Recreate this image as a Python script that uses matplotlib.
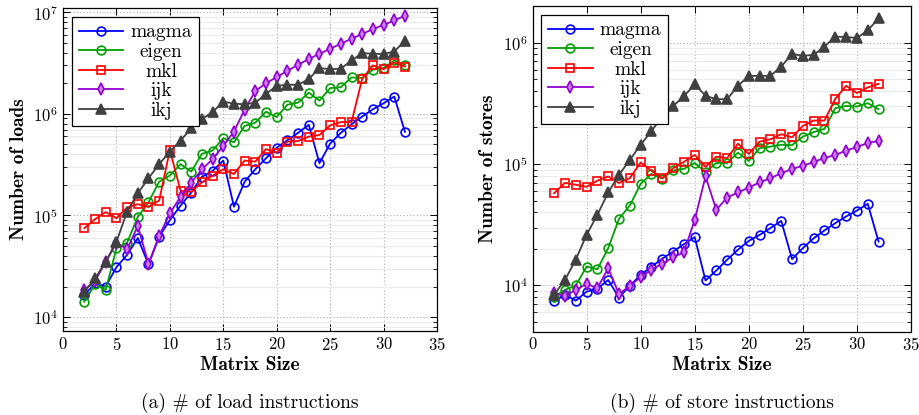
import matplotlib
matplotlib.use("Agg")
import matplotlib.pyplot as plt
from matplotlib.ticker import LogLocator, NullFormatter

plt.rcParams['font.family'] = 'serif'
plt.rcParams['font.serif'] = ['cmr10', 'DejaVu Serif']
plt.rcParams['mathtext.fontset'] = 'cm'
plt.rcParams['axes.formatter.use_mathtext'] = True
plt.rcParams['axes.unicode_minus'] = False

sizes = list(range(2, 33))
series_names = ['magma', 'eigen', 'mkl', 'ijk', 'ikj']

loads_magma = [1.65e4, 2.15e4, 2.0e4, 3.1e4, 4.1e4, 6.0e4, 3.3e4, 6.2e4, 9.0e4, 1.25e5,
               1.68e5, 2.4e5, 2.75e5, 3.47e5, 1.22e5, 2.15e5, 2.85e5, 3.66e5, 4.65e5, 5.5e5,
               6.5e5, 7.8e5, 3.27e5, 5.1e5, 6.5e5, 7.9e5, 9.4e5, 1.11e6, 1.27e6, 1.48e6, 6.65e5]
loads_eigen = [1.42e4, 2.1e4, 1.85e4, 4.75e4, 5.4e4, 9.7e4, 1.35e5, 2.15e5, 2.47e5, 3.2e5,
               2.7e5, 4.04e5, 4.35e5, 5.76e5, 5.25e5, 7.6e5, 8.2e5, 1.05e6, 9.3e5, 1.23e6,
               1.29e6, 1.62e6, 1.35e6, 1.79e6, 1.83e6, 2.28e6, 2.25e6, 2.72e6, 2.82e6, 3.35e6, 3.04e6]
loads_mkl = [7.5e4, 9.2e4, 1.08e5, 9.4e4, 1.2e5, 1.29e5, 1.22e5, 1.4e5, 4.4e5, 1.75e5,
             1.71e5, 2.12e5, 2.47e5, 2.85e5, 2.56e5, 3.47e5, 3.39e5, 4.5e5, 4.16e5, 5.33e5,
             5.4e5, 5.97e5, 6.2e5, 7.7e5, 8.3e5, 8.3e5, 2.21e6, 3.0e6, 2.75e6, 3.2e6, 2.92e6]
loads_ijk = [1.85e4, 2.27e4, 3.5e4, 5.4e4, 4.64e4, 7.9e4, 3.33e4, 6.3e4, 1.05e5, 1.53e5,
             2.1e5, 2.85e5, 3.57e5, 4.84e5, 6.7e5, 1.1e6, 1.68e6, 2.0e6, 2.3e6, 2.65e6,
             3.04e6, 3.46e6, 3.9e6, 4.37e6, 4.9e6, 5.48e6, 6.1e6, 6.83e6, 7.5e6, 8.3e6, 9.25e6]
loads_ikj = [1.78e4, 2.4e4, 3.5e4, 5.5e4, 1.09e5, 1.65e5, 2.32e5, 3.2e5, 4.25e5, 5.46e5,
             7.2e5, 8.9e5, 1.04e6, 1.32e6, 1.26e6, 1.24e6, 1.29e6, 1.57e6, 1.89e6, 1.93e6,
             1.93e6, 2.2e6, 2.82e6, 2.75e6, 2.78e6, 3.35e6, 3.96e6, 3.9e6, 3.88e6, 4.1e6, 5.24e6]

stores_magma = [7.4e3, 8.4e3, 7.5e3, 8.9e3, 9.4e3, 1.11e4, 7.95e3, 9.95e3, 1.22e4, 1.43e4,
                1.66e4, 1.9e4, 2.19e4, 2.5e4, 1.1e4, 1.33e4, 1.63e4, 1.97e4, 2.33e4, 2.61e4,
                2.97e4, 3.4e4, 1.65e4, 2.03e4, 2.45e4, 2.84e4, 3.26e4, 3.7e4, 4.14e4, 4.7e4, 2.3e4]
stores_eigen = [8.1e3, 9.2e3, 1.0e4, 1.43e4, 1.36e4, 2.03e4, 3.54e4, 4.55e4, 6.87e4, 8.3e4,
                7.6e4, 8.85e4, 9.13e4, 1.02e5, 8.57e4, 1.02e5, 1.02e5, 1.24e5, 1.06e5, 1.35e5,
                1.39e5, 1.44e5, 1.43e5, 1.68e5, 1.83e5, 1.95e5, 2.88e5, 3.01e5, 2.97e5, 3.17e5, 2.83e5]
stores_mkl = [5.75e4, 7.0e4, 6.75e4, 6.5e4, 7.3e4, 7.9e4, 6.97e4, 7.65e4, 1.03e5, 8.8e4,
              7.65e4, 9.25e4, 1.04e5, 1.19e5, 9.5e4, 1.15e5, 1.12e5, 1.47e5, 1.21e5, 1.53e5,
              1.6e5, 1.76e5, 1.66e5, 2.06e5, 2.28e5, 2.28e5, 3.44e5, 4.4e5, 3.84e5, 4.27e5, 4.57e5]
stores_ijk = [8.65e3, 8.2e3, 9.2e3, 1.03e4, 9.5e3, 1.39e4, 8.5e3, 9.95e3, 1.17e4, 1.35e4,
              1.51e4, 1.7e4, 1.88e4, 3.47e4, 7.9e4, 4.2e4, 5.3e4, 5.83e4, 6.4e4, 7.05e4,
              7.65e4, 8.4e4, 9.1e4, 9.67e4, 1.04e5, 1.12e5, 1.19e5, 1.29e5, 1.38e5, 1.49e5, 1.55e5]
stores_ikj = [8.4e3, 1.11e4, 1.63e4, 2.61e4, 3.82e4, 5.83e4, 8.15e4, 1.08e5, 1.44e5, 1.87e5,
              2.46e5, 3.01e5, 3.6e5, 4.55e5, 3.64e5, 3.42e5, 3.42e5, 4.4e5, 5.32e5, 5.32e5,
              5.32e5, 6.34e5, 8.07e5, 7.77e5, 7.92e5, 9.27e5, 1.12e6, 1.11e6, 1.09e6, 1.26e6, 1.58e6]

x_ticks = [0, 5, 10, 15, 20, 25, 30, 35]
x_label = 'Matrix Size'
y_labels = ['Number of loads', 'Number of stores']
captions = ['(a) # of load instructions', '(b) # of store instructions']

styles = {
    'magma': dict(color='#0000ff', marker='o', mfc='none', mec='#0000ff', ms=6.3),
    'eigen': dict(color='#00a000', marker='o', mfc='none', mec='#00a000', ms=6.3),
    'mkl': dict(color='#ff0000', marker='s', mfc='none', mec='#ff0000', ms=5.6),
    'ijk': dict(color='#9400d3', marker='d', mfc='#c77ee8', mec='#9400d3', ms=5.8),
    'ikj': dict(color='#404040', marker='^', mfc='#404040', mec='#404040', ms=6.5),
}

fig = plt.figure(figsize=(9.19, 4.15), dpi=100)
ax1 = fig.add_axes([63/919, 1-331/415, (437-63)/919, (331-8)/415])
ax2 = fig.add_axes([532.5/919, 1-331.5/415, (911-532.5)/919, (331.5-6)/415])

panels = [
    (ax1, [loads_magma, loads_eigen, loads_mkl, loads_ijk, loads_ikj], (7.3e3, 1.1e7)),
    (ax2, [stores_magma, stores_eigen, stores_mkl, stores_ijk, stores_ikj], (4.18e3, 2.0e6)),
]

legends = []
for i, (ax, data, ylim) in enumerate(panels):
    for name, vals in zip(series_names, data):
        st = styles[name]
        ax.plot(sizes, vals, color=st['color'], marker=st['marker'], mfc=st['mfc'],
                mec=st['mec'], ms=st['ms'], mew=1.2, lw=1.3, label=name, zorder=3)
    ax.set_yscale('log')
    ax.set_xlim(0, 35)
    ax.set_ylim(*ylim)
    ax.set_xticks(x_ticks)
    ax.yaxis.set_major_locator(LogLocator(base=10, numticks=10))
    ax.yaxis.set_minor_locator(LogLocator(base=10, subs=range(2, 10), numticks=20))
    ax.yaxis.set_minor_formatter(NullFormatter())
    ax.grid(True, which='major', axis='both', linestyle=(0, (1, 2)), color='#aaaaaa', lw=0.8, zorder=0)
    ax.grid(True, which='minor', axis='y', linestyle='-', color='#ebebeb', lw=0.8, zorder=0)
    ax.set_axisbelow(True)
    ax.tick_params(which='both', direction='in', top=True, right=True, labelsize=12)
    ax.tick_params(which='major', length=5, width=0.7)
    ax.tick_params(which='minor', length=3, width=0.6)
    for sp in ax.spines.values():
        sp.set_linewidth(0.9)
    ax.set_xlabel(x_label, fontfamily='cmb10', fontsize=14, labelpad=2)
    ax.set_ylabel(y_labels[i], fontfamily='cmb10', fontsize=14, labelpad=4)
    leg = ax.legend(loc='upper left', fontsize=14, frameon=True, fancybox=False,
                    edgecolor='black', framealpha=1, borderpad=0.35, labelspacing=0.08,
                    handlelength=2.3, handletextpad=0.35, borderaxespad=0.45)
    leg.get_frame().set_linewidth(0.9)
    legends.append(leg)
    pos = ax.get_position()
    fig.text((pos.x0 + pos.x1) / 2, 1 - 403/415, captions[i], ha='center', va='center', fontsize=14)

# center legend texts within their column
fig.canvas.draw()
renderer = fig.canvas.get_renderer()
for leg in legends:
    texts = leg.get_texts()
    widths = [t.get_window_extent(renderer).width for t in texts]
    wmax = max(widths)
    for t, w in zip(texts, widths):
        t.set_position(((wmax - w) / 2, 0))

fig.savefig('out.png', dpi=100)
